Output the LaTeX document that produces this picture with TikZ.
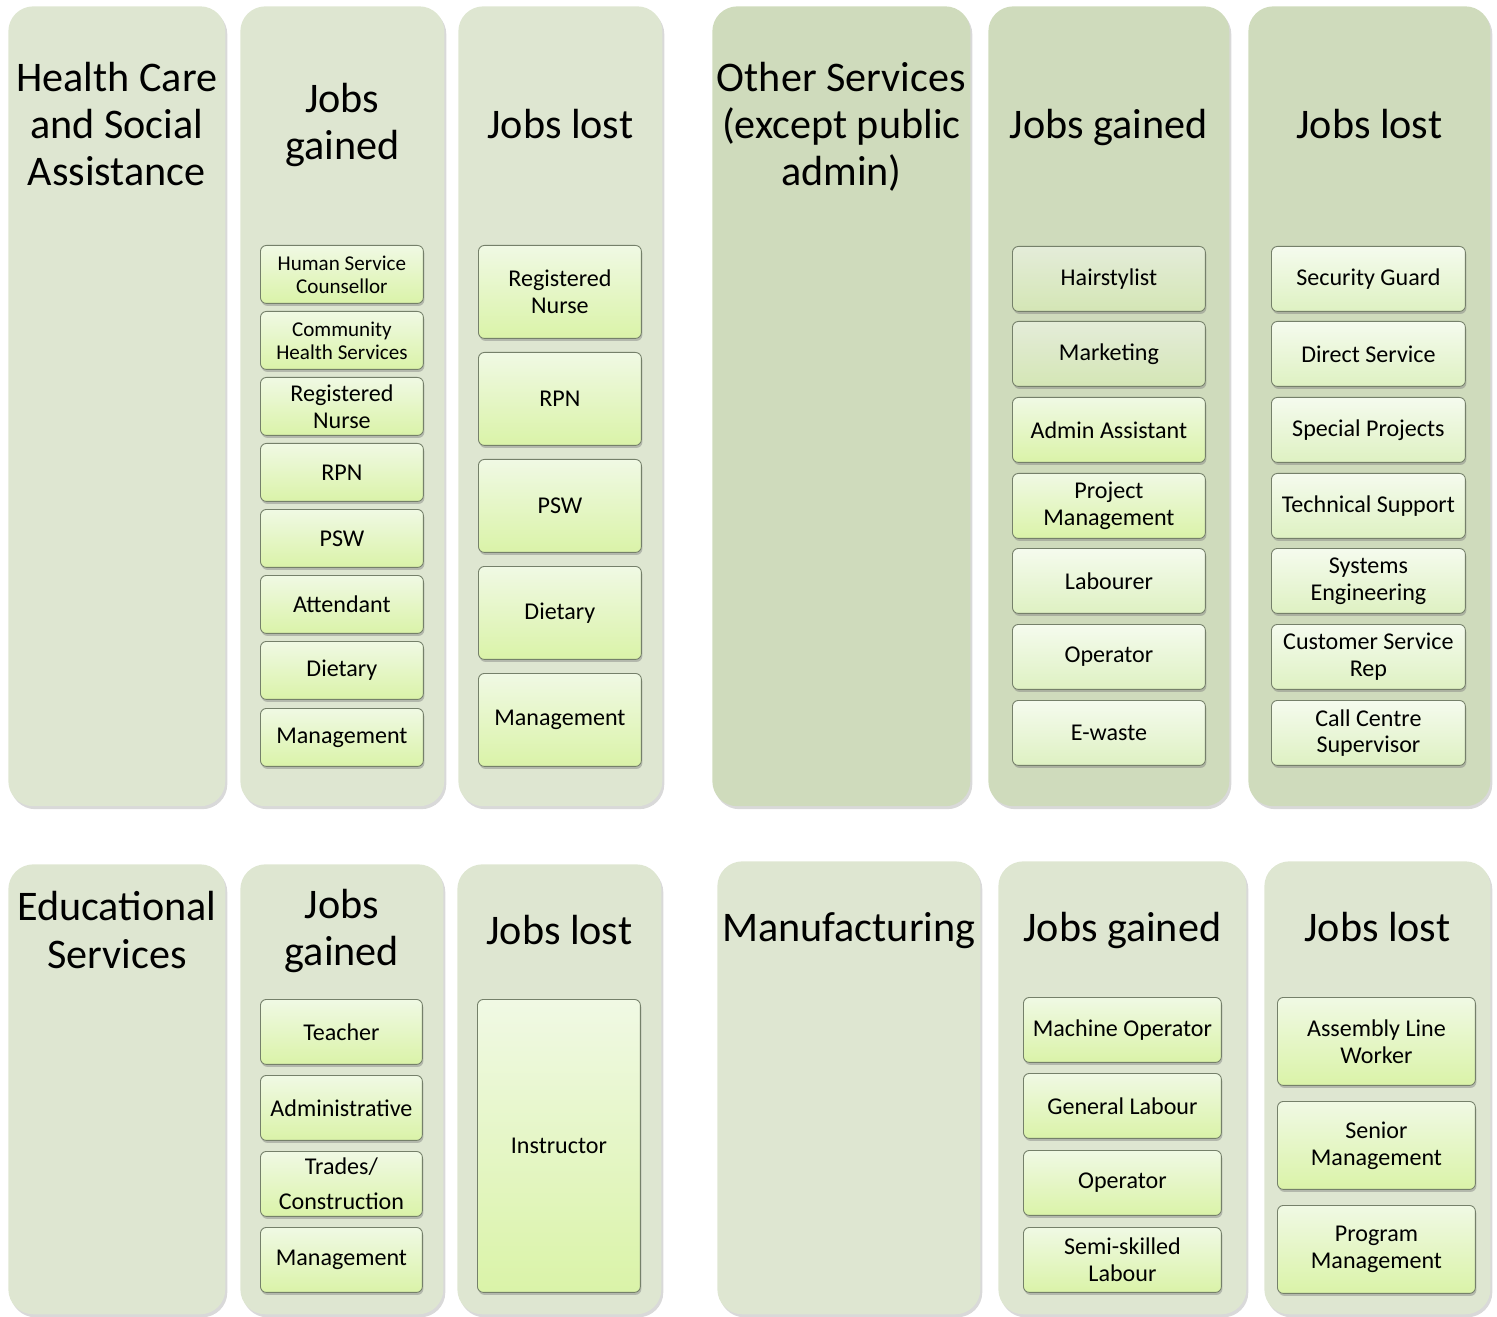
\documentclass[tikz,border=0pt]{standalone}
\usepackage{fontspec}
\setmainfont{Carlito}
\usepackage{tikz}
\usetikzlibrary{shapes,shadows}

\definecolor{panelfill}{HTML}{DEE6D1}
\definecolor{paneldark}{HTML}{CFDBBC}
\definecolor{boxtop}{HTML}{F0F9E4}
\definecolor{boxbottom}{HTML}{DAF3A8}
\definecolor{greytop}{HTML}{E4ECD9}
\definecolor{greybottom}{HTML}{D4E6B5}
\definecolor{paletop}{HTML}{F5FBEE}
\definecolor{palebottom}{HTML}{DEF1C2}
\definecolor{boxline}{HTML}{75806A}

\tikzset{
  panel/.style={shape=rectangle, rounded corners=0.5cm, anchor=north west, fill=panelfill,
    drop shadow={shadow xshift=0.04cm, shadow yshift=-0.06cm, opacity=0.3}},
  heading/.style={align=center, font=\fontsize{24}{26.8}\selectfont},
  jobbox/.style={shape=rectangle, rounded corners=0.12cm, anchor=north west, draw=boxline,
    line width=0.5pt, top color=boxtop, bottom color=boxbottom, align=center,
    font=\fontsize{13.7}{15.2}\selectfont,
    drop shadow={shadow xshift=0.02cm, shadow yshift=-0.05cm, opacity=0.45}},
  small/.style={font=\fontsize{12}{13.1}\selectfont},
  greybox/.style={top color=greytop, bottom color=greybottom},
  palebox/.style={top color=paletop, bottom color=palebottom},
}

\begin{document}
\begin{tikzpicture}[x=0.02cm, y=-0.02cm]

\useasboundingbox (0,0) rectangle (1497,1317);

% health care and social assistance
\node[name=health, panel, minimum width=4.34cm, minimum height=16cm] at (8,6) {};
\node[name=healthgain, panel, minimum width=4.08cm, minimum height=16cm] at (240,6) {};
\node[name=healthlost, panel, minimum width=4.08cm, minimum height=16cm] at (458,6) {};

\node[name=healthT, heading] at ([yshift=-2.36cm]health.north) {Health Care\\and Social\\Assistance};
\node[name=healthgainT, heading] at ([yshift=-2.38cm]healthgain.north) {Jobs\\gained};
\node[name=healthlostT, heading] at ([yshift=-2.36cm]healthlost.north) {Jobs lost};

\node[name=hg1, jobbox, small, minimum width=3.26cm, minimum height=1.16cm] at (260,245) {Human Service\\Counsellor};
\node[name=hg2, jobbox, small, minimum width=3.26cm, minimum height=1.16cm] at (260,311) {Community\\Health Services};
\node[name=hg3, jobbox, minimum width=3.26cm, minimum height=1.16cm] at (260,377) {Registered\\Nurse};
\node[name=hg4, jobbox, minimum width=3.26cm, minimum height=1.16cm] at (260,443) {RPN};
\node[name=hg5, jobbox, minimum width=3.26cm, minimum height=1.16cm] at (260,509) {PSW};
\node[name=hg6, jobbox, minimum width=3.26cm, minimum height=1.16cm] at (260,575) {Attendant};
\node[name=hg7, jobbox, minimum width=3.26cm, minimum height=1.16cm] at (260,641) {Dietary};
\node[name=hg8, jobbox, minimum width=3.26cm, minimum height=1.16cm] at (260,708) {Management};

\node[name=hl1, jobbox, minimum width=3.26cm, minimum height=1.86cm] at (478,245) {Registered\\Nurse};
\node[name=hl2, jobbox, minimum width=3.26cm, minimum height=1.86cm] at (478,352) {RPN};
\node[name=hl3, jobbox, minimum width=3.26cm, minimum height=1.86cm] at (478,459) {PSW};
\node[name=hl4, jobbox, minimum width=3.26cm, minimum height=1.86cm] at (478,566) {Dietary};
\node[name=hl5, jobbox, minimum width=3.26cm, minimum height=1.86cm] at (478,673) {Management};

% other services
\node[name=other, panel, fill=paneldark, minimum width=5.16cm, minimum height=16cm] at (712,6) {};
\node[name=othergain, panel, fill=paneldark, minimum width=4.82cm, minimum height=16cm] at (988,6) {};
\node[name=otherlost, panel, fill=paneldark, minimum width=4.84cm, minimum height=16cm] at (1248,6) {};

\node[name=otherT, heading] at ([yshift=-2.42cm]other.north) {Other Services\\(except public\\admin)};
\node[name=othergainT, heading] at ([yshift=-2.44cm]othergain.north) {Jobs gained};
\node[name=otherlostT, heading] at ([yshift=-2.36cm]otherlost.north) {Jobs lost};

\node[name=og1, jobbox, greybox, minimum width=3.86cm, minimum height=1.3cm] at (1012,246) {Hairstylist};
\node[name=og2, jobbox, greybox, minimum width=3.86cm, minimum height=1.3cm] at (1012,321) {Marketing};
\node[name=og3, jobbox, minimum width=3.86cm, minimum height=1.3cm] at (1012,397) {Admin Assistant};
\node[name=og4, jobbox, minimum width=3.86cm, minimum height=1.3cm] at (1012,473) {Project\\Management};
\node[name=og5, jobbox, palebox, minimum width=3.86cm, minimum height=1.3cm] at (1012,548) {Labourer};
\node[name=og6, jobbox, palebox, minimum width=3.86cm, minimum height=1.3cm] at (1012,624) {Operator};
\node[name=og7, jobbox, palebox, minimum width=3.86cm, minimum height=1.3cm] at (1012,700) {E-waste};

\node[name=ol1, jobbox, palebox, minimum width=3.88cm, minimum height=1.3cm] at (1271,246) {Security Guard};
\node[name=ol2, jobbox, palebox, minimum width=3.88cm, minimum height=1.3cm] at (1271,321) {Direct Service};
\node[name=ol3, jobbox, palebox, minimum width=3.88cm, minimum height=1.3cm] at (1271,397) {Special Projects};
\node[name=ol4, jobbox, palebox, minimum width=3.88cm, minimum height=1.3cm] at (1271,473) {Technical Support};
\node[name=ol5, jobbox, palebox, minimum width=3.88cm, minimum height=1.3cm] at (1271,548) {Systems\\Engineering};
\node[name=ol6, jobbox, palebox, minimum width=3.88cm, minimum height=1.3cm] at (1271,624) {Customer Service\\Rep};
\node[name=ol7, jobbox, palebox, minimum width=3.88cm, minimum height=1.3cm] at (1271,700) {Call Centre\\Supervisor};

% educational services
\node[name=edu, panel, minimum width=4.34cm, minimum height=9cm] at (8,864) {};
\node[name=edugain, panel, minimum width=4.06cm, minimum height=9cm] at (240,864) {};
\node[name=edulost, panel, minimum width=4.08cm, minimum height=9cm] at (457,864) {};

\node[name=eduT, heading] at ([yshift=-1.32cm]edu.north) {Educational\\Services};
\node[name=edugainT, heading] at ([yshift=-1.34cm]edugain.north) {Jobs\\gained};
\node[name=edulostT, heading] at ([yshift=-1.32cm]edulost.north) {Jobs lost};

\node[name=eg1, jobbox, minimum width=3.24cm, minimum height=1.3cm] at (260,999) {Teacher};
\node[name=eg2, jobbox, minimum width=3.24cm, minimum height=1.3cm] at (260,1075) {Administrative};
\node[name=eg3, jobbox, minimum width=3.24cm, minimum height=1.3cm] at (260,1151) {Trades/\\[5pt]Construction};
\node[name=eg4, jobbox, minimum width=3.24cm, minimum height=1.3cm] at (260,1227) {Management};

\node[name=el1, jobbox, minimum width=3.26cm, minimum height=5.86cm] at (477,999) {Instructor};

% manufacturing
\node[name=manu, panel, minimum width=5.26cm, minimum height=9.06cm] at (717,861) {};
\node[name=manugain, panel, minimum width=4.96cm, minimum height=9.06cm] at (998,861) {};
\node[name=manulost, panel, minimum width=4.52cm, minimum height=9.06cm] at (1264,861) {};

\node[name=manuT, heading] at ([yshift=-1.4cm]manu.north) {Manufacturing};
\node[name=manugainT, heading] at ([yshift=-1.38cm]manugain.north) {Jobs gained};
\node[name=manulostT, heading] at ([yshift=-1.32cm]manulost.north) {Jobs lost};

\node[name=mg1, jobbox, minimum width=3.96cm, minimum height=1.3cm] at (1023,997) {Machine Operator};
\node[name=mg2, jobbox, minimum width=3.96cm, minimum height=1.3cm] at (1023,1073) {General Labour};
\node[name=mg3, jobbox, minimum width=3.96cm, minimum height=1.3cm] at (1023,1150) {Operator};
\node[name=mg4, jobbox, minimum width=3.96cm, minimum height=1.3cm] at (1023,1227) {Semi-skilled\\Labour};

\node[name=ml1, jobbox, minimum width=3.96cm, minimum height=1.76cm] at (1277,997) {Assembly Line\\Worker};
\node[name=ml2, jobbox, minimum width=3.96cm, minimum height=1.76cm] at (1277,1101) {Senior\\Management};
\node[name=ml3, jobbox, minimum width=3.96cm, minimum height=1.76cm] at (1277,1205) {Program\\Management};

\end{tikzpicture}
\end{document}
